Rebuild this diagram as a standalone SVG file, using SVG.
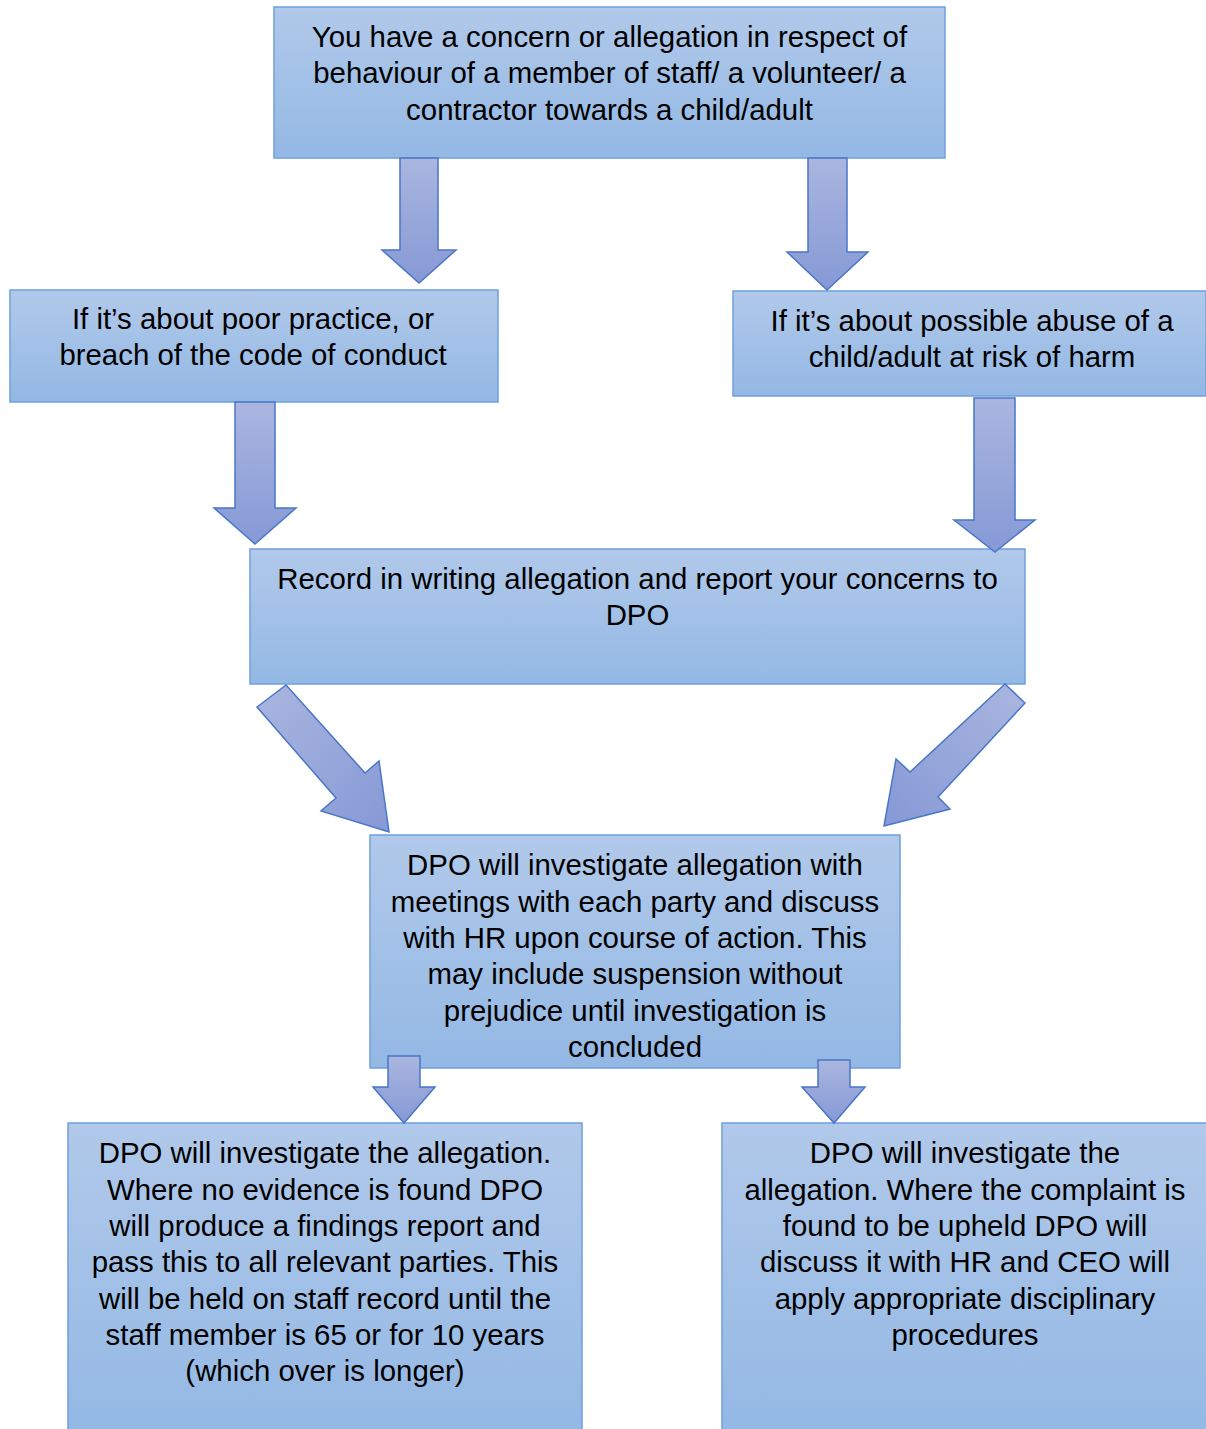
<svg xmlns="http://www.w3.org/2000/svg" width="1206" height="1429" viewBox="0 0 1206 1429">
<defs>
<linearGradient id="boxg" x1="0" y1="0" x2="0" y2="1">
<stop offset="0" stop-color="#b1c9ea"/>
<stop offset="1" stop-color="#93b8e4"/>
</linearGradient>
<linearGradient id="arrg" x1="0" y1="0" x2="0" y2="1">
<stop offset="0" stop-color="#aab6df"/>
<stop offset="1" stop-color="#8699d6"/>
</linearGradient>
<linearGradient id="arrd1" x1="0" y1="0" x2="1" y2="1">
<stop offset="0" stop-color="#aab6df"/>
<stop offset="1" stop-color="#8699d6"/>
</linearGradient>
<linearGradient id="arrd2" x1="1" y1="0" x2="0" y2="1">
<stop offset="0" stop-color="#aab6df"/>
<stop offset="1" stop-color="#8699d6"/>
</linearGradient>
</defs>
<style>
.box{fill:url(#boxg);stroke:#6fa0db;stroke-width:1.5}
.arr{fill:url(#arrg);stroke:#4a76c8;stroke-width:1.5;stroke-linejoin:miter}
text{font-family:"Liberation Sans",Arial,sans-serif;font-size:29.4px;fill:#000;text-anchor:middle}
</style>
<rect width="1206" height="1429" fill="#fff"/>
<g id="n1">
<rect class="box" x="274" y="7" width="671" height="151"/>
<text x="609.5" y="47">You have a concern or allegation in respect of</text>
<text x="609.5" y="83">behaviour of a member of staff/ a volunteer/ a</text>
<text x="609.5" y="120">contractor towards a child/adult</text>
</g>
<g id="n2">
<rect class="box" x="10" y="290" width="488" height="112"/>
<text x="253" y="329">If it’s about poor practice, or</text>
<text x="253" y="365">breach of the code of conduct</text>
</g>
<g id="n3">
<rect class="box" x="733" y="291" width="473" height="105"/>
<text x="972" y="331">If it’s about possible abuse of a</text>
<text x="972" y="367">child/adult at risk of harm</text>
</g>
<g id="n4">
<rect class="box" x="250" y="549" width="775" height="135"/>
<text x="637.5" y="589">Record in writing allegation and report your concerns to</text>
<text x="637.5" y="625">DPO</text>
</g>
<g id="n5">
<rect class="box" x="370" y="835" width="530" height="233"/>
<text x="635" y="875">DPO will investigate allegation with</text>
<text x="635" y="912">meetings with each party and discuss</text>
<text x="635" y="948">with HR upon course of action. This</text>
<text x="635" y="984">may include suspension without</text>
<text x="635" y="1021">prejudice until investigation is</text>
<text x="635" y="1057">concluded</text>
</g>
<g id="n6">
<rect class="box" x="68" y="1123" width="514" height="310"/>
<text x="325" y="1163">DPO will investigate the allegation.</text>
<text x="325" y="1200">Where no evidence is found DPO</text>
<text x="325" y="1236">will produce a findings report and</text>
<text x="325" y="1272">pass this to all relevant parties. This</text>
<text x="325" y="1309">will be held on staff record until the</text>
<text x="325" y="1345">staff member is 65 or for 10 years</text>
<text x="325" y="1381">(which over is longer)</text>
</g>
<g id="n7">
<rect class="box" x="722" y="1123" width="488" height="310"/>
<text x="965" y="1163">DPO will investigate the</text>
<text x="965" y="1200">allegation. Where the complaint is</text>
<text x="965" y="1236">found to be upheld DPO will</text>
<text x="965" y="1272">discuss it with HR and CEO will</text>
<text x="965" y="1309">apply appropriate disciplinary</text>
<text x="965" y="1345">procedures</text>
</g>
<g id="connectors">
<polygon class="arr" points="400,158 438,158 438,250 456,250 419,283 382,250 400,250"/>
<polygon class="arr" points="808,158 847,158 847,252 868,252 827,290 787,252 808,252"/>
<polygon class="arr" points="235,402 275,402 275,508 296,508 255,544 214,508 235,508"/>
<polygon class="arr" points="974,398 1015,398 1015,520 1035,520 995,552 954,520 974,520"/>
<polygon class="arr" style="fill:url(#arrd1)" points="286,685 257,707 336,798 321,811 389,832 379,761 365,773"/>
<polygon class="arr" style="fill:url(#arrd2)" points="1005,684 1025,703 938,797 950,809 884,826 896,759 910,772"/>
<polygon class="arr" points="388,1056 420,1056 420,1087 435,1087 404,1123 373,1087 388,1087"/>
<polygon class="arr" points="818,1060 850,1060 850,1087 865,1087 834,1123 802,1087 818,1087"/>
</g>
</svg>
